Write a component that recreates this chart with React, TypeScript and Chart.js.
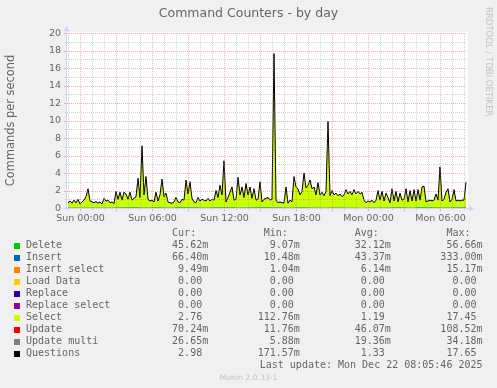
import React, { useEffect, useRef } from 'react';
import { Chart, registerables } from 'chart.js';

Chart.register(...registerables);

// ---- time axis (hours relative to Sun 00:00) ----
const START_HOUR = -1; // Sat 23:00
const STEP_HOURS = 1 / 6; // 10-minute samples
const X_MIN = -13 / 12;
const X_MAX = 32.25;
const Y_MIN = 0;
const Y_MAX = 20;

const yTickValues = [0, 2, 4, 6, 8, 10, 12, 14, 16, 18, 20];
const xTickHours = [0, 6, 12, 18, 24, 30];
const xTickLabels = ['Sun 00:00', 'Sun 06:00', 'Sun 12:00', 'Sun 18:00', 'Mon 00:00', 'Mon 06:00'];

// ---- Questions (black line), 10-min samples from Sat 23:00 ----
const questions = [
  0.6, 0.8, 0.55, 0.9, 0.6, 1.0,
  0.45, 0.7, 0.9, 1.3, 2.2, 0.8,
  0.7, 0.6, 0.75, 0.55, 0.7, 0.45,
  1.1, 0.8, 0.9, 0.6, 0.7, 0.5,
  1.9, 1.0, 1.8, 0.9, 1.8, 1.6,
  1.0, 1.8, 0.9, 1.1, 1.3, 3.4,
  1.2, 7.1, 1.5, 3.6, 1.0, 0.8,
  0.9, 0.7, 1.8, 0.8, 1.5, 3.3,
  1.3, 1.7, 0.7, 0.6, 0.55, 0.7,
  1.2, 0.7, 0.6, 1.0, 0.9, 3.2,
  1.6, 3.0, 1.1, 0.7, 0.6, 1.2,
  0.8, 1.0, 0.9, 0.8, 1.1, 0.8,
  1.0, 0.9, 2.0, 1.2, 2.6, 1.5,
  5.4, 0.7, 1.2, 1.8, 2.4, 0.9,
  1.0, 3.5, 1.5, 2.4, 1.2, 2.8,
  1.5, 2.4, 1.1, 2.2, 0.9, 1.0,
  3.0, 0.7, 1.0, 1.1, 1.2, 0.9,
  1.0, 17.65, 0.9, 0.6, 0.7, 0.6,
  0.6, 2.4, 0.55, 0.9, 0.7, 3.6,
  2.4, 2.2, 1.5, 1.9, 4.0, 2.3,
  2.6, 3.2, 2.2, 2.4, 1.5, 2.9,
  1.5, 1.8, 1.4, 1.9, 9.9, 1.4,
  2.0, 1.5, 1.7, 1.4, 1.6, 1.3,
  1.5, 2.1, 1.6, 1.9, 1.5, 2.1,
  1.6, 1.9, 1.6, 1.8, 0.9, 0.6,
  0.8, 0.7, 0.9, 0.6, 0.9, 2.0,
  0.9, 1.9, 0.8, 1.7, 1.2, 0.6,
  2.2, 0.8, 1.9, 0.7, 1.7, 0.9,
  1.0, 2.2, 0.7, 2.0, 0.8, 2.1,
  0.8, 2.1, 0.9, 2.4, 2.5, 0.7,
  0.8, 0.9, 0.8, 0.9, 1.6, 0.9,
  4.7, 0.8, 1.0, 1.8, 2.2, 0.7,
  1.0, 2.1, 0.8, 0.9, 0.8, 0.9,
  0.9, 2.98,
];

// ---- Select (yellow-green area), 10-min samples ----
const selectVals = [
  0.45, 0.65, 0.4, 0.75, 0.45, 0.85,
  0.3, 0.55, 0.75, 1.15, 2.05, 0.65,
  0.55, 0.45, 0.6, 0.4, 0.55, 0.3,
  0.95, 0.65, 0.75, 0.45, 0.55, 0.35,
  1.75, 0.85, 1.65, 0.75, 1.65, 1.45,
  0.85, 1.65, 0.75, 0.95, 1.15, 3.25,
  1.05, 6.95, 1.35, 3.45, 0.85, 0.65,
  0.75, 0.55, 1.65, 0.65, 1.35, 3.15,
  1.15, 1.55, 0.55, 0.45, 0.4, 0.55,
  1.05, 0.55, 0.45, 0.85, 0.75, 3.05,
  1.45, 2.85, 0.95, 0.55, 0.45, 1.05,
  0.65, 0.85, 0.75, 0.65, 0.95, 0.65,
  0.85, 0.75, 1.85, 1.05, 2.45, 1.35,
  5.25, 0.55, 1.05, 1.65, 2.25, 0.75,
  0.85, 3.35, 1.35, 2.25, 1.05, 2.65,
  1.35, 2.25, 0.95, 2.05, 0.75, 0.85,
  2.85, 0.55, 0.85, 0.95, 1.05, 0.75,
  0.85, 17.45, 0.75, 0.45, 0.55, 0.45,
  0.45, 2.25, 0.4, 0.75, 0.55, 3.45,
  2.25, 2.05, 1.35, 1.75, 3.85, 2.15,
  2.45, 3.05, 2.05, 2.25, 1.35, 2.75,
  1.35, 1.65, 1.25, 1.75, 9.75, 1.25,
  1.85, 1.35, 1.55, 1.25, 1.45, 1.15,
  1.35, 1.95, 1.45, 1.75, 1.35, 1.95,
  1.45, 1.75, 1.45, 1.65, 0.75, 0.45,
  0.65, 0.55, 0.75, 0.45, 0.75, 1.85,
  0.75, 1.75, 0.65, 1.55, 1.05, 0.45,
  2.05, 0.65, 1.75, 0.55, 1.55, 0.75,
  0.85, 2.05, 0.55, 1.85, 0.65, 1.95,
  0.65, 1.95, 0.75, 2.25, 2.35, 0.55,
  0.65, 0.75, 0.65, 0.75, 1.45, 0.75,
  4.55, 0.65, 0.85, 1.65, 2.05, 0.55,
  0.85, 1.95, 0.65, 0.75, 0.65, 0.75,
  0.75, 2.76,
];

// ---- small series, hourly values from Sat 23:00 to Mon 08:00 ----
const deleteHourly = [0.03, 0.02, 0.03, 0.02, 0.04, 0.05, 0.03, 0.04, 0.03, 0.05, 0.04, 0.03, 0.04, 0.05, 0.03, 0.04, 0.05, 0.04, 0.03, 0.04, 0.03, 0.02, 0.03, 0.02, 0.01, 0.02, 0.03, 0.04, 0.03, 0.05, 0.04, 0.03, 0.04, 0.05];
const insertHourly = [0.04, 0.03, 0.02, 0.03, 0.05, 0.06, 0.04, 0.05, 0.04, 0.06, 0.05, 0.04, 0.05, 0.06, 0.04, 0.05, 0.06, 0.05, 0.04, 0.05, 0.04, 0.03, 0.04, 0.03, 0.02, 0.03, 0.04, 0.05, 0.04, 0.06, 0.05, 0.04, 0.05, 0.07];
const insertSelectHourly = [0.005, 0.004, 0.006, 0.005, 0.007, 0.006, 0.008, 0.006, 0.005, 0.007, 0.006, 0.005, 0.007, 0.008, 0.006, 0.005, 0.007, 0.006, 0.005, 0.006, 0.005, 0.004, 0.005, 0.004, 0.003, 0.004, 0.006, 0.007, 0.006, 0.008, 0.007, 0.006, 0.008, 0.009];
const loadDataHourly = [0, 0, 0, 0, 0, 0, 0, 0, 0, 0, 0, 0, 0, 0, 0, 0, 0, 0, 0, 0, 0, 0, 0, 0, 0, 0, 0, 0, 0, 0, 0, 0, 0, 0];
const replaceHourly = [0, 0, 0, 0, 0, 0, 0, 0, 0, 0, 0, 0, 0, 0, 0, 0, 0, 0, 0, 0, 0, 0, 0, 0, 0, 0, 0, 0, 0, 0, 0, 0, 0, 0];
const replaceSelectHourly = [0, 0, 0, 0, 0, 0, 0, 0, 0, 0, 0, 0, 0, 0, 0, 0, 0, 0, 0, 0, 0, 0, 0, 0, 0, 0, 0, 0, 0, 0, 0, 0, 0, 0];
const updateHourly = [0.04, 0.03, 0.03, 0.04, 0.05, 0.06, 0.05, 0.06, 0.05, 0.06, 0.05, 0.04, 0.06, 0.07, 0.05, 0.05, 0.06, 0.05, 0.04, 0.05, 0.04, 0.03, 0.04, 0.03, 0.02, 0.03, 0.05, 0.06, 0.05, 0.06, 0.05, 0.04, 0.06, 0.07];
const updateMultiHourly = [0.02, 0.015, 0.015, 0.02, 0.02, 0.025, 0.02, 0.02, 0.02, 0.025, 0.02, 0.02, 0.02, 0.025, 0.02, 0.02, 0.025, 0.02, 0.015, 0.02, 0.015, 0.01, 0.015, 0.01, 0.008, 0.01, 0.02, 0.025, 0.02, 0.025, 0.02, 0.02, 0.025, 0.027];

// ---- legend ----
const legendLabels = ['Delete', 'Insert', 'Insert select', 'Load Data', 'Replace', 'Replace select', 'Select', 'Update', 'Update multi', 'Questions'];
const legendColors = ['#00cc00', '#0066b3', '#ff8000', '#ffcc00', '#330099', '#990099', '#ccff00', '#ff0000', '#808080', '#000000'];
const legendCur = ['45.62m', '66.40m', '9.49m', '0.00', '0.00', '0.00', '2.76', '70.24m', '26.65m', '2.98'];
const legendMin = ['9.07m', '10.48m', '1.04m', '0.00', '0.00', '0.00', '112.76m', '11.76m', '5.88m', '171.57m'];
const legendAvg = ['32.12m', '43.37m', '6.14m', '0.00', '0.00', '0.00', '1.19', '46.07m', '19.36m', '1.33'];
const legendMax = ['56.66m', '333.00m', '15.17m', '0.00', '0.00', '0.00', '17.45', '108.52m', '34.18m', '17.65'];
const legendHeaders = ['Cur:', 'Min:', 'Avg:', 'Max:'];
const lastUpdate = 'Last update: Mon Dec 22 08:05:46 2025';
const titleText = 'Command Counters - by day';
const yTitle = 'Commands per second';
const watermark = 'RRDTOOL / TOBI OETIKER';
const version = 'Munin 2.0.33-1';

const FONT = '"DejaVu Sans", sans-serif';
const MONO = '"DejaVu Sans Mono", monospace';
const TEXT_COLOR = '#666666';

const times = questions.map((_, i) => START_HOUR + i * STEP_HOURS);
const fromHourly = (hourly: number[]) => times.map((t, i) => ({ x: t, y: hourly[Math.floor(i / 6)] }));
const fromSamples = (vals: number[]) => vals.map((v, i) => ({ x: times[i], y: v }));

const munPlugin = {
  id: 'munin',
  beforeDraw(chart: any) {
    const { ctx, chartArea: a } = chart;
    ctx.save();
    ctx.fillStyle = '#f0f0f0';
    ctx.fillRect(0, 0, chart.width, chart.height);
    ctx.fillStyle = '#ffffff';
    ctx.fillRect(a.left, a.top - 1, a.right - a.left + 1, a.bottom - a.top + 1);
    ctx.restore();
  },
  afterDatasetsDraw(chart: any) {
    const { ctx, chartArea: a, scales } = chart;
    const xs = scales.x;
    const ys = scales.y;
    const minor = 'rgba(143,143,143,0.42)';
    const major = 'rgba(230,80,80,0.45)';
    ctx.save();
    ctx.lineWidth = 1;
    // horizontal grid
    for (let v = Y_MIN; v <= Y_MAX; v++) {
      const py = Math.round(ys.getPixelForValue(v)) + 0.5;
      const isMajor = v % 2 === 0;
      ctx.strokeStyle = isMajor ? major : minor;
      if (v !== 0) {
        ctx.setLineDash([1, 1]);
        ctx.beginPath();
        ctx.moveTo(a.left, py);
        ctx.lineTo(a.right, py);
        ctx.stroke();
      }
      ctx.setLineDash([]);
      ctx.beginPath();
      ctx.moveTo(a.left - (isMajor ? 3 : 2), py);
      ctx.lineTo(a.left, py);
      ctx.stroke();
    }
    // vertical grid
    for (let h = Math.ceil(X_MIN); h <= Math.floor(X_MAX); h++) {
      const px = Math.round(xs.getPixelForValue(h)) + 0.5;
      const isMajor = h % 3 === 0;
      ctx.strokeStyle = isMajor ? major : minor;
      ctx.setLineDash([1, 1]);
      ctx.beginPath();
      ctx.moveTo(px, a.top);
      ctx.lineTo(px, a.bottom);
      ctx.stroke();
      ctx.setLineDash([]);
      ctx.beginPath();
      ctx.moveTo(px, a.bottom);
      ctx.lineTo(px, a.bottom + (isMajor ? 3 : 2));
      ctx.stroke();
    }
    // axes with arrows
    const axisColor = '#CFD6F8';
    ctx.setLineDash([]);
    ctx.strokeStyle = axisColor;
    ctx.fillStyle = axisColor;
    const ax = a.left - 0.5;
    const ay = Math.round(ys.getPixelForValue(0)) + 0.5;
    ctx.beginPath();
    ctx.moveTo(ax, ay);
    ctx.lineTo(ax, a.top - 3);
    ctx.moveTo(a.left - 3, ay);
    ctx.lineTo(a.right + 3, ay);
    ctx.stroke();
    ctx.beginPath();
    ctx.moveTo(ax, a.top - 7);
    ctx.lineTo(ax - 3, a.top - 2);
    ctx.lineTo(ax + 3, a.top - 2);
    ctx.closePath();
    ctx.fill();
    ctx.beginPath();
    ctx.moveTo(a.right + 7, ay);
    ctx.lineTo(a.right + 2, ay - 3);
    ctx.lineTo(a.right + 2, ay + 3);
    ctx.closePath();
    ctx.fill();
    ctx.restore();
  },
  afterDraw(chart: any) {
    const { ctx, chartArea: a, scales } = chart;
    const xs = scales.x;
    const ys = scales.y;
    ctx.save();
    // title
    ctx.fillStyle = TEXT_COLOR;
    ctx.font = `12.5px ${FONT}`;
    ctx.textAlign = 'center';
    ctx.textBaseline = 'alphabetic';
    ctx.fillText(titleText, chart.width / 2, 17);
    // y ticks
    ctx.font = `9.5px ${FONT}`;
    ctx.textAlign = 'right';
    ctx.textBaseline = 'middle';
    yTickValues.forEach((v) => {
      ctx.fillText(String(v), a.left - 6, ys.getPixelForValue(v) + 0.5);
    });
    // x ticks
    ctx.textAlign = 'center';
    ctx.textBaseline = 'alphabetic';
    xTickHours.forEach((h, i) => {
      ctx.fillText(xTickLabels[i], xs.getPixelForValue(h) + 0.5, 221);
    });
    // y title
    ctx.save();
    ctx.font = `11.4px ${FONT}`;
    ctx.translate(14, (a.top + a.bottom) / 2);
    ctx.rotate(-Math.PI / 2);
    ctx.textAlign = 'center';
    ctx.textBaseline = 'alphabetic';
    ctx.fillText(yTitle, 0, 0);
    ctx.restore();
    // watermark vertical
    ctx.save();
    ctx.fillStyle = '#c4c4c4';
    ctx.font = `8.5px ${FONT}`;
    ctx.translate(485.5, 7);
    ctx.rotate(Math.PI / 2);
    ctx.textAlign = 'left';
    ctx.textBaseline = 'alphabetic';
    ctx.fillText(watermark, 0, 0);
    ctx.restore();
    // version
    ctx.fillStyle = '#c4c4c4';
    ctx.font = `7.7px ${FONT}`;
    ctx.textAlign = 'center';
    ctx.textBaseline = 'middle';
    ctx.fillText(version, chart.width / 2, 378);
    // legend
    ctx.font = `10px ${MONO}`;
    ctx.fillStyle = TEXT_COLOR;
    ctx.textAlign = 'left';
    ctx.textBaseline = 'middle';
    const cw = ctx.measureText('0').width;
    const fieldRights = [208.2, 299.8, 390.8, 482.5];
    const cols = [legendCur, legendMin, legendAvg, legendMax];
    const headerY = 233.3;
    legendHeaders.forEach((hd, c) => {
      ctx.fillText(hd, fieldRights[c] - 6 * cw, headerY);
    });
    legendLabels.forEach((lab, r) => {
      const ry = 245.5 + r * 12;
      ctx.fillStyle = legendColors[r];
      ctx.fillRect(14, Math.round(ry) - 3, 6, 6);
      ctx.fillStyle = TEXT_COLOR;
      ctx.fillText(lab, 26, ry);
      cols.forEach((col, c) => {
        const v = col[r];
        const s = /[a-z]$/i.test(v) ? v : v + ' ';
        ctx.fillText(s, fieldRights[c] - s.length * cw, ry);
      });
    });
    ctx.fillText(lastUpdate, 482.5 - lastUpdate.length * cw, 365.5);
    ctx.restore();
  },
};

export default function App() {
  const canvasRef = useRef<HTMLCanvasElement | null>(null);

  useEffect(() => {
    if (!canvasRef.current) return;
    const area = (label: string, color: string, data: any[], first: boolean) => ({
      label,
      data,
      backgroundColor: color,
      borderColor: color,
      borderWidth: 0,
      pointRadius: 0,
      tension: 0,
      fill: first ? 'origin' : '-1',
      stack: 'areas',
      order: 2,
    });
    const chart = new Chart(canvasRef.current, {
      type: 'line',
      data: {
        datasets: [
          area('Delete', legendColors[0], fromHourly(deleteHourly), true),
          area('Insert', legendColors[1], fromHourly(insertHourly), false),
          area('Insert select', legendColors[2], fromHourly(insertSelectHourly), false),
          area('Load Data', legendColors[3], fromHourly(loadDataHourly), false),
          area('Replace', legendColors[4], fromHourly(replaceHourly), false),
          area('Replace select', legendColors[5], fromHourly(replaceSelectHourly), false),
          area('Select', legendColors[6], fromSamples(selectVals), false),
          area('Update', legendColors[7], fromHourly(updateHourly), false),
          area('Update multi', legendColors[8], fromHourly(updateMultiHourly), false),
          {
            label: 'Questions',
            data: fromSamples(questions),
            borderColor: '#000000',
            backgroundColor: '#000000',
            borderWidth: 1,
            pointRadius: 0,
            tension: 0,
            fill: false,
            stack: 'questions',
            order: 1,
          },
        ],
      },
      options: {
        animation: false,
        responsive: false,
        devicePixelRatio: 1,
        events: [],
        layout: { padding: { left: 67, top: 33, right: 30, bottom: 180 } },
        plugins: {
          legend: { display: false },
          title: { display: false },
          tooltip: { enabled: false },
        },
        scales: {
          x: { type: 'linear', min: X_MIN, max: X_MAX, display: false },
          y: { type: 'linear', min: Y_MIN, max: Y_MAX, stacked: true, display: false },
        },
      },
      plugins: [munPlugin],
    } as any);
    return () => chart.destroy();
  }, []);

  return (
    <div style={{ position: 'fixed', left: 0, top: 0, width: 497, height: 388, background: '#f0f0f0' }}>
      <canvas ref={canvasRef} width={497} height={388} style={{ display: 'block' }} />
    </div>
  );
}
